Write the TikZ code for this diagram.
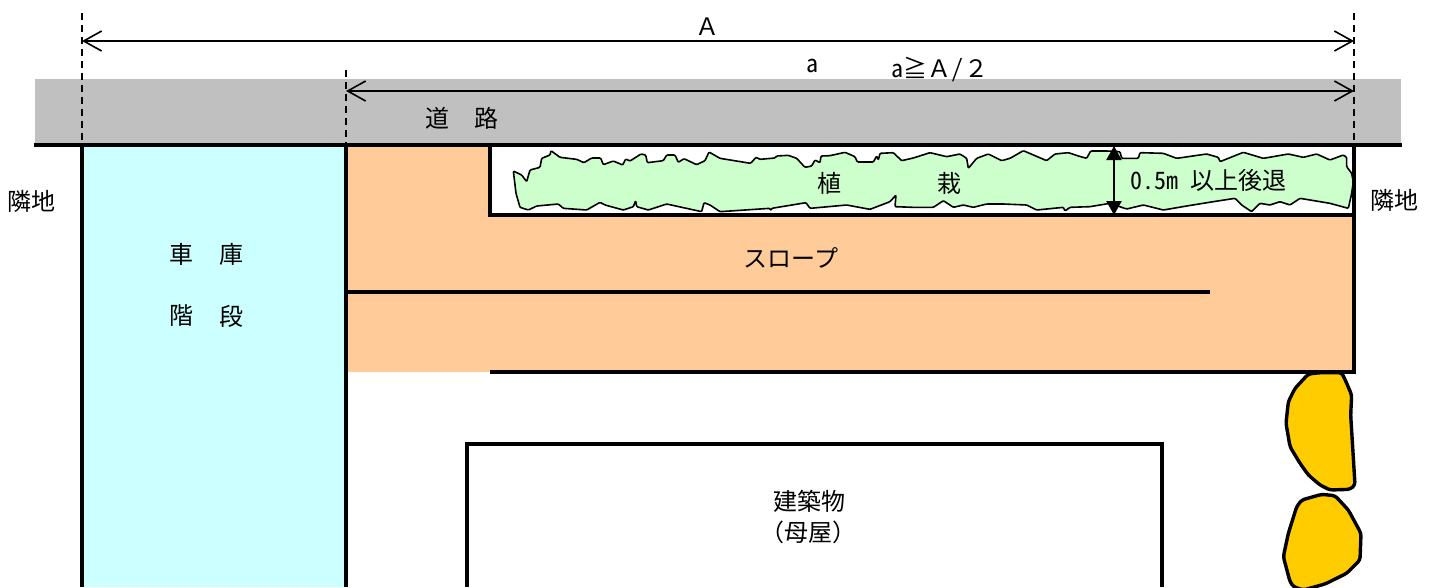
\documentclass[tikz,border=0pt]{standalone}
\usepackage{fontspec}
\setmainfont{Noto Sans CJK JP}
\newfontfamily\hwfont[RawFeature=+hwid]{Noto Sans CJK JP}
\usetikzlibrary{arrows.meta}
\definecolor{roadgray}{HTML}{C0C0C0}
\definecolor{garage}{HTML}{CCFFFF}
\definecolor{slope}{HTML}{FFCC99}
\definecolor{plant}{HTML}{CCFFCC}
\definecolor{shrub}{HTML}{FFCC00}
\tikzset{
  heavy/.style={line width=3.6pt,draw=black},
  dimline/.style={line width=1.7pt,draw=black,{Straight Barb[length=18pt,width=20pt,line width=1.6pt]}-{Straight Barb[length=18pt,width=20pt,line width=1.6pt]}},
  guide/.style={line width=1.5pt,draw=black,dash pattern=on 7pt off 5pt},
  label/.style={inner sep=0pt,font=\fontsize{24}{26}\selectfont,text=black},
  hwlabel/.style={inner sep=0pt,font=\hwfont\fontsize{24}{26}\selectfont,text=black},
  bush/.style={line width=1.6pt,draw=black,fill=plant,line join=round,rounded corners=1pt},
  stone/.style={line width=3.4pt,draw=black,fill=shrub,line join=round,rounded corners=3pt},
  solidarrow/.style={line width=2.2pt,draw=black,{Triangle[length=14pt,width=15pt]}-{Triangle[length=14pt,width=15pt]}}
}
\begin{document}
\begin{tikzpicture}[x=1pt,y=-1pt]
\useasboundingbox (0,0) rectangle (1434,587);
\clip (0,0) rectangle (1434,587);
\fill[white] (0,0) rectangle (1434,587);
% areas
\fill[roadgray] (35,79) rectangle (1401,145);
\fill[garage] (82,145) rectangle (346,587);
\fill[slope] (346,145) rectangle (1354,372);
\fill[white] (490,145) rectangle (1354,215);
% planting
\begin{scope}[shift={(480,130)},x=0.33333pt,y=-0.33333pt]
\draw[bush] (100,123)--(125,135)--(140,155)--(150,120)--(180,112)--(185,85)--(210,75)--(213,62)--(240,82)--(290,88)--(312,98)--(335,84)--(362,84)--(370,104)--(400,93)--(428,105)--(437,87)--(450,93)--(483,72)--(497,75)--(502,98)--(550,92)--(560,75)--(585,75)--(595,97)--(612,86)--(650,104)--(675,92)--(687,66)--(720,85)--(812,100)--(828,82)--(840,88)--(885,84)--(890,78)--(925,76)--(950,85)--(975,112)--(995,108)--(1005,90)--(1020,98)--(1023,78)--(1050,77)--(1095,67)--(1125,80)--(1132,96)--(1180,96)--(1190,78)--(1195,90)--(1200,70)--(1240,68)--(1265,92)--(1300,84)--(1350,68)
--(1400,80)--(1440,72)--(1460,85)--(1465,115)--(1490,85)--(1525,72)--(1565,92)--(1590,85)--(1630,62)--(1700,92)--(1725,72)--(1765,68)--(1795,78)--(1820,85)--(1832,63)--(1880,63)--(1920,65)--(1925,85)--(1975,85)--(1980,68)--(2050,70)--(2090,85)--(2180,72)--(2215,82)--(2220,95)--(2290,67)--(2350,85)--(2425,72)--(2470,82)--(2510,72)--(2550,90)--(2590,75)--(2600,82)--(2600,110)--(2615,130)--(2620,155)--(2615,190)--(2605,235)
--(2550,220)--(2460,205)--(2430,225)--(2400,215)--(2370,225)--(2340,220)--(2315,245)--(2285,225)--(2265,205)--(2200,215)--(2120,228)--(2050,240)--(1990,225)--(1940,237)--(1890,220)--(1830,230)--(1770,232)--(1755,243)--(1750,232)--(1670,240)--(1640,225)--(1570,222)--(1520,222)--(1480,232)--(1450,225)--(1420,232)--(1390,212)--(1360,232)--(1300,232)--(1245,230)--(1248,195)--(1230,215)--(1170,238)--(1100,225)--(990,235)--(978,218)--(875,235)--(872,242)--(870,235)--(720,245)--(690,225)--(672,218)--(665,245)--(560,222)--(505,240)--(470,230)--(467,212)--(460,230)--(430,240)--(375,225)--(360,217)--(320,240)--(250,235)--(235,222)--(170,228)--(145,240)--(120,232)--(108,190)--cycle;
\end{scope}
% shrubs
\begin{scope}[shift={(1260,360)},x=0.33333pt,y=-0.33333pt]
\draw[stone] (145,42)--(180,38)--(245,38)--(258,65)--(275,105)--(272,165)--(285,375)--(270,388)--(210,390)--(180,375)--(145,345)--(120,310)--(90,260)--(78,190)--(85,125)--(105,85)--cycle;
\draw[stone] (125,420)--(185,403)--(225,407)--(265,450)--(303,520)--(300,600)--(260,640)--(195,672)--(130,690)--(100,680)--(90,665)--(70,590)--(85,520)--(110,440)--cycle;
\end{scope}
% named points
\coordinate (gTop) at (82,13); \coordinate (gRoad) at (82,145); \coordinate (gBot) at (82,587);
\coordinate (sTop) at (346,70); \coordinate (sRoad) at (346,145); \coordinate (sBot) at (346,587);
\coordinate (rTop) at (1354,13); \coordinate (rRoad) at (1354,145); \coordinate (rBot) at (1354,372);
\coordinate (roadW) at (34,145); \coordinate (roadE) at (1402,145);
\coordinate (aL) at (82,41); \coordinate (aR) at (1354,41);
\coordinate (bL) at (346,91); \coordinate (bR) at (1354,91);
\coordinate (pTL) at (490,145); \coordinate (pBL) at (490,215); \coordinate (pBR) at (1354,215);
\coordinate (midL) at (346,292); \coordinate (midR) at (1210,292);
\coordinate (lowL) at (490,372);
\coordinate (bdBL) at (467,587); \coordinate (bdTL) at (467,444); \coordinate (bdTR) at (1162,444); \coordinate (bdBR) at (1162,587);
\coordinate (hT) at (1114,146); \coordinate (hB) at (1114,215);
% walls
\draw[heavy] (gRoad)--(gBot);
\draw[heavy] (sRoad)--(sBot);
\draw[heavy] (rRoad)--(rBot)--(lowL);
\draw[heavy] (pTL)--(pBL)--(pBR);
\draw[heavy] (midL)--(midR);
\draw[heavy] (bdBL)--(bdTL)--(bdTR)--(bdBR);
\draw[line width=4pt] (roadW)--(roadE);
% dimensions
\draw[guide] (gTop)--(gRoad);
\draw[guide] (sTop)--(sRoad);
\draw[guide] (rTop)--(rRoad);
\draw[dimline] (aL)--(aR);
\draw[dimline] (bL)--(bR);
\draw[solidarrow] (hT)--(hB);
% labels
\node[label] (tA) at (707,27) {Ａ};
\node[hwlabel] (ta) at (812,66) {a};
\node[label,anchor=west] (tEq) at (891,69) {{\hwfont a}≧Ａ{\hwfont /}\kern1pt ２};
\node[label] (tRd1) at (437,118) {道};
\node[label] (tRd2) at (486,118) {路};
\node[label] (tN1) at (31,201) {隣地};
\node[label] (tN2) at (1394,200) {隣地};
\node[label] (tG1) at (181,254) {車};
\node[label] (tG2) at (231,254) {庫};
\node[label] (tS1) at (181,316) {階};
\node[label] (tS2) at (231,316) {段};
\node[label] (tP1) at (829,183) {植};
\node[label] (tP2) at (949,183) {栽};
\node[label] (tSl) at (791,258) {スロープ};
\node[hwlabel,anchor=west] (tBack) at (1130,180) {0.5m 以上後退};
\node[label] (tB1) at (809,501) {建築物};
\node[label] (tB2) at (808,532) {（母屋）};
\end{tikzpicture}
\end{document}
